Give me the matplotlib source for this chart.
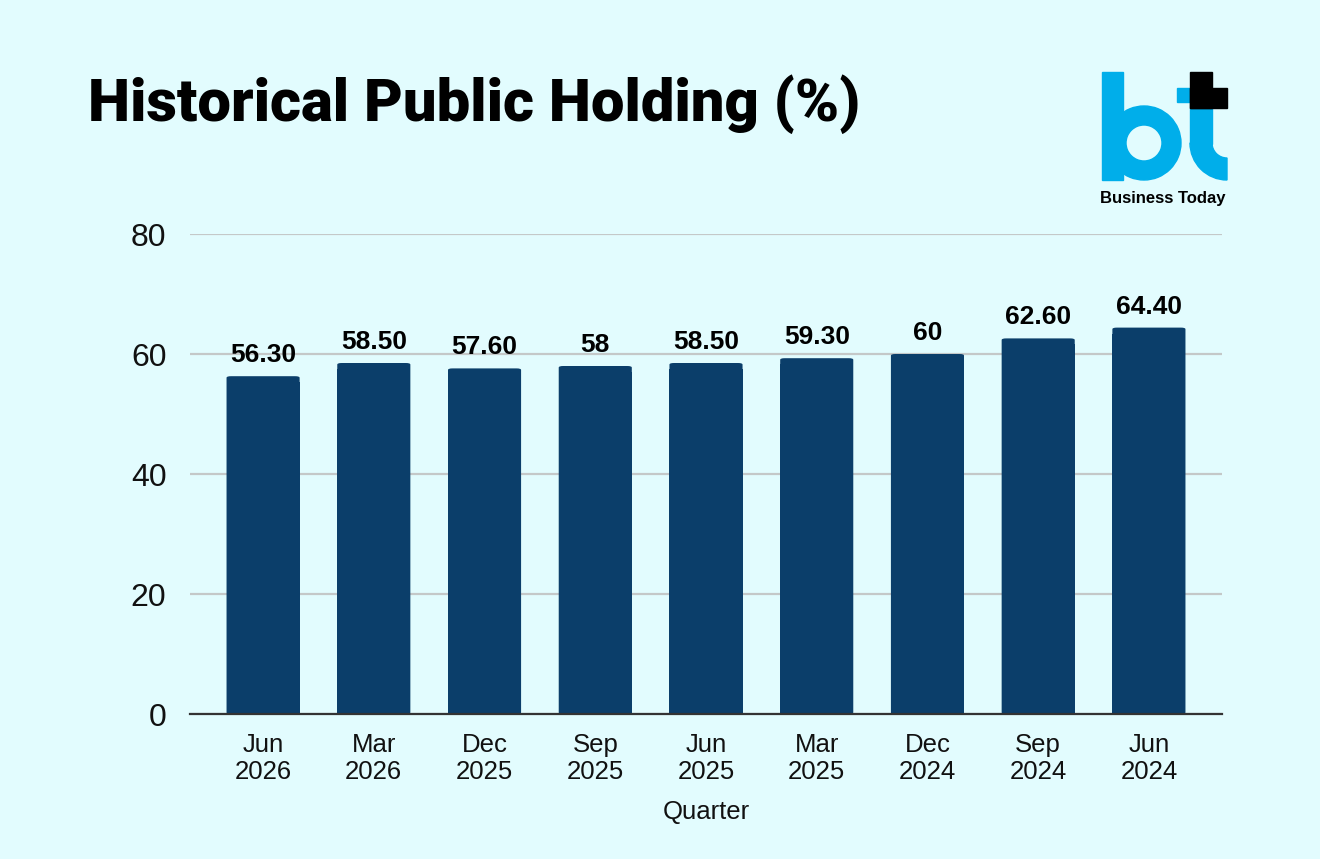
import matplotlib
matplotlib.use("Agg")
from matplotlib import pyplot as plt
from matplotlib.patches import FancyBboxPatch, Rectangle, Wedge

quarters = ["Jun\n2026", "Mar\n2026", "Dec\n2025", "Sep\n2025", "Jun\n2025",
            "Mar\n2025", "Dec\n2024", "Sep\n2024", "Jun\n2024"]
holding = [56.30, 58.50, 57.60, 58, 58.50, 59.30, 60, 62.60, 64.40]
value_labels = ["56.30", "58.50", "57.60", "58", "58.50", "59.30", "60", "62.60", "64.40"]
yticks = [0, 20, 40, 60, 80]

bg = "#e2fcfe"
barcol = "#0b3e6a"
logo_blue = "#00aeea"

plt.rcParams["font.family"] = ["Liberation Sans", "DejaVu Sans"]

fig = plt.figure(figsize=(13.2, 8.59), dpi=100, facecolor=bg)
ax = fig.add_axes([190/1320, 1 - 714/859, 1032/1320, 480/859])
ax.set_facecolor(bg)

x = list(range(len(quarters)))
bars = ax.bar(x, holding, width=0.66, color=barcol, zorder=3)
# swap plain bars for ones with slightly rounded tops
for b in bars:
    b.set_visible(False)
    bx, by = b.get_x(), b.get_y()
    w, h = b.get_width(), b.get_height()
    ax.add_patch(FancyBboxPatch((bx, by), w, h,
                                boxstyle="round,pad=0,rounding_size=0.04",
                                mutation_aspect=6.5, facecolor=barcol,
                                edgecolor="none", zorder=3))
    ax.add_patch(Rectangle((bx, by), w, h - 1, facecolor=barcol,
                           edgecolor="none", zorder=3))

for xi, v, lab in zip(x, holding, value_labels):
    ax.annotate(lab, (xi, v), xytext=(0, 6.5), textcoords="offset points",
                ha="center", va="bottom", fontsize=19, fontweight="bold",
                color="black", zorder=4)

ax.set_xlim(-0.66, len(quarters) - 1 + 0.66)
ax.set_ylim(0, 80)
ax.set_yticks(yticks)
ax.set_yticklabels([str(t) for t in yticks], fontsize=23)
ax.set_xticks(x)
ax.set_xticklabels(quarters, fontsize=18.5, linespacing=1.12)
ax.tick_params(axis="both", length=0, colors="#111111")
ax.tick_params(axis="x", pad=14)
ax.tick_params(axis="y", pad=17)
ax.grid(axis="y", color="#c4c8c8", linewidth=1.6, zorder=0)
for s in ["top", "right", "left"]:
    ax.spines[s].set_visible(False)
ax.spines["bottom"].set_color("#333333")
ax.spines["bottom"].set_linewidth(1.6)
ax.spines["bottom"].set_zorder(5)
ax.set_xlabel("Quarter", fontsize=18.5, labelpad=12, color="#111111")

fig.text(88/1320, 1 - 121/859, "Historical Public Holding (%)",
         fontsize=43, fontweight="heavy", family=["Roboto", "DejaVu Sans"],
         color="black", ha="left", va="baseline")

# Business Today logo, drawn in pixel coordinates on an overlay axes
lg = fig.add_axes([0, 0, 1, 1], facecolor="none")
lg.set_xlim(0, 1320)
lg.set_ylim(859, 0)
lg.axis("off")
lg.add_patch(Rectangle((1102, 72), 21, 108, color=logo_blue))
lg.add_patch(Wedge((1144, 143), 37, 0, 360, width=19, color=logo_blue))
lg.add_patch(Rectangle((1177, 88), 14, 14, color=logo_blue))
lg.add_patch(Rectangle((1190, 108), 22, 36, color=logo_blue))
lg.add_patch(Wedge((1227, 143), 37, 90, 180, width=22, color=logo_blue))
lg.add_patch(Rectangle((1190, 72), 22, 36, color="black"))
lg.add_patch(Rectangle((1190, 88), 37, 20, color="black"))

fig.text(1100/1320, 1 - 203/859, "Business Today", fontsize=12,
         fontweight="bold", color="black", ha="left", va="baseline")

fig.savefig("out.png", dpi=100, facecolor=bg)
